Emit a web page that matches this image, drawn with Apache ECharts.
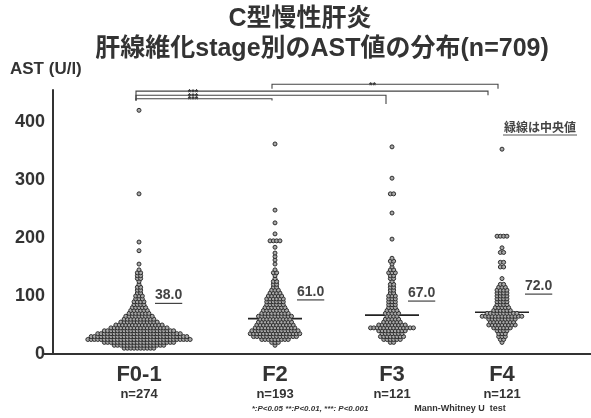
<!DOCTYPE html>
<html>
<head>
<meta charset="utf-8">
<script src="https://cdn.jsdelivr.net/npm/echarts@6/dist/echarts.min.js"></script>
<style>
  html, body { margin: 0; padding: 0; background: #fff; }
  #chart { width: 591px; height: 418px; }
</style>
</head>
<body>
<div id="chart"></div>
<script>
// data
const categories = ['F0-1', 'F2', 'F3', 'F4'];
const groupN = [274, 193, 121, 121];
const medians = [38.0, 61.0, 67.0, 72.0];

// AST value of each dot row and the number of dots in that row
const rowsF01 = [10, 15, 20, 25, 30, 35, 40, 45, 50, 55, 60, 65, 70, 75, 80, 85, 90, 95, 100, 105, 110, 115, 120, 125, 130, 135, 140, 145, 155, 178, 193, 276, 420];
const countsF01 = [10, 16, 22, 32, 30, 26, 22, 18, 15, 12, 10, 9, 7, 6, 5, 4, 4, 3, 3, 2, 2, 2, 1, 1, 2, 2, 2, 1, 1, 1, 1, 1, 1];

const rowsF2 = [15, 20, 25, 30, 35, 40, 45, 50, 55, 60, 65, 70, 75, 80, 85, 90, 95, 100, 105, 110, 115, 120, 125, 130, 135, 140, 145, 155, 162, 168, 174, 184, 195, 207, 226, 248, 362];
const countsF2 = [1, 3, 9, 14, 16, 15, 13, 12, 11, 10, 11, 9, 8, 7, 6, 6, 6, 5, 4, 3, 2, 2, 2, 1, 1, 2, 1, 1, 1, 1, 1, 1, 4, 1, 1, 1, 1];

const rowsF3 = [20, 25, 30, 35, 40, 45, 50, 55, 60, 65, 70, 75, 80, 85, 90, 95, 100, 105, 110, 115, 120, 125, 130, 135, 140, 145, 150, 155, 160, 165, 198, 243, 276, 303, 357];
const countsF3 = [2, 6, 8, 7, 9, 14, 9, 6, 5, 4, 5, 4, 3, 3, 3, 3, 3, 2, 2, 2, 2, 1, 2, 2, 3, 2, 1, 1, 2, 1, 1, 1, 2, 1, 1];

const rowsF4 = [20, 25, 30, 35, 40, 45, 50, 55, 60, 65, 70, 75, 80, 85, 90, 95, 100, 105, 110, 115, 120, 130, 150, 158, 175, 183, 203, 353];
const countsF4 = [1, 2, 3, 3, 4, 6, 9, 8, 9, 13, 10, 6, 5, 4, 4, 4, 4, 4, 4, 3, 2, 1, 2, 2, 2, 1, 4, 1];

const yTicks = [0, 100, 200, 300, 400];

// significance brackets: from group, to group, stars
const bracketFrom = [1, 0, 0, 0];
const bracketTo = [3, 3, 2, 1];
const bracketStars = ['**', '***', '***', '***'];

// layout (axis units == pixels along x)
const groupPos = [86, 222, 339, 449];
const dotGap = 3.3;
const medianHalf = 27;
const labelDx = [16, 22, 16, 23];
const labelY = [101, 107, 105, 117];
const bracketLevel = [465, 453, 446, 440];
const bracketLeftDrop = [457, 437, 437, 437];
const bracketRightDrop = [457, 446, 431, 437];
const bracketLeftDx = [-3, -3, -3, -3];
const bracketRightDx = [-4, -14, -6, -3];
const starX = 140;

const txt = '#333';
const latin = '"Liberation Sans", Arial, "Noto Sans CJK JP", sans-serif';

function swarm(center, rows, counts) {
    let pts = [];
    rows.forEach((v, i) => {
        let c = counts[i];
        for (let k = 0; k < c; k++) {
            pts.push([center + (k - (c - 1) / 2) * dotGap, v]);
        }
    });
    return pts;
}

const groups = [
    swarm(groupPos[0], rowsF01, countsF01),
    swarm(groupPos[1], rowsF2, countsF2),
    swarm(groupPos[2], rowsF3, countsF3),
    swarm(groupPos[3], rowsF4, countsF4)
];

const measure = document.createElement('canvas').getContext('2d');
function textWidth(s, font) {
    measure.font = font;
    return measure.measureText(s).width;
}

let myChart = echarts.init(document.getElementById('chart'), null, {renderer: 'canvas'});

let dotSeries = groups.map((g, i) => ({
    name: categories[i],
    type: 'scatter',
    data: g,
    symbol: 'circle',
    symbolSize: 4,
    itemStyle: {color: '#a8a8a8', borderColor: '#2e2e2e', borderWidth: 1, opacity: 1},
    emphasis: {disabled: true},
    z: 3
}));

// median line sits under the dots, label on top
let medianLineSeries = {
    type: 'custom',
    data: medians.map((m, i) => [i, m]),
    z: 2,
    clip: false,
    renderItem: function (params, api) {
        let i = api.value(0);
        let m = api.value(1);
        let a = api.coord([groupPos[i] - medianHalf, m]);
        let b = api.coord([groupPos[i] + medianHalf, m]);
        return {type: 'line', shape: {x1: a[0], y1: a[1], x2: b[0], y2: b[1]},
            style: {stroke: '#222', lineWidth: 1.6}};
    }
};

let medianLabelSeries = {
    type: 'custom',
    data: medians.map((m, i) => [i, m]),
    z: 5,
    clip: false,
    renderItem: function (params, api) {
        let i = api.value(0);
        let m = api.value(1);
        let t = api.coord([groupPos[i] + labelDx[i], labelY[i]]);
        let label = m.toFixed(1);
        let font = 'bold 14px ' + latin;
        let w = textWidth(label, font);
        return {
            type: 'group',
            children: [
                {type: 'text', x: t[0], y: t[1],
                    style: {text: label, font: font, fill: '#444', align: 'left', verticalAlign: 'middle'}},
                {type: 'line', shape: {x1: t[0], y1: t[1] + 8, x2: t[0] + w, y2: t[1] + 8},
                    style: {stroke: '#444', lineWidth: 1.2}}
            ]
        };
    }
};

let bracketSeries = {
    type: 'custom',
    data: bracketFrom.map((f, i) => [i]),
    z: 5,
    clip: false,
    renderItem: function (params, api) {
        let i = api.value(0);
        let x1 = groupPos[bracketFrom[i]] + bracketLeftDx[i];
        let x2 = groupPos[bracketTo[i]] + bracketRightDx[i];
        let p1 = api.coord([x1, bracketLeftDrop[i]]);
        let p2 = api.coord([x1, bracketLevel[i]]);
        let p3 = api.coord([x2, bracketLevel[i]]);
        let p4 = api.coord([x2, bracketRightDrop[i]]);
        let sx = bracketFrom[i] === 0 ? starX : (groupPos[bracketFrom[i]] + groupPos[bracketTo[i]]) / 2 - 16;
        let s = api.coord([sx, bracketLevel[i]]);
        return {
            type: 'group',
            children: [
                {type: 'polyline', shape: {points: [p1, p2, p3, p4]},
                    style: {stroke: '#444', lineWidth: 1.1, fill: null}},
                {type: 'text', x: s[0], y: s[1] + 1,
                    style: {text: bracketStars[i], font: 'bold 9px ' + latin, fill: '#333', align: 'center', verticalAlign: 'middle'}}
            ]
        };
    }
};

let options = {
    backgroundColor: '#fff',
    animation: false,
    grid: {left: 53, right: 0, top: 90, bottom: 64},
    xAxis: {
        type: 'value',
        min: 0,
        max: 538,
        splitLine: {show: false},
        axisLine: {show: true, onZero: false, lineStyle: {color: '#333', width: 2}},
        axisTick: {show: false},
        axisLabel: {
            customValues: groupPos,
            margin: 9,
            formatter: function (v) {
                let i = groupPos.indexOf(v);
                if (i < 0) return '';
                return '{a|' + categories[i] + '}\n{b|n=' + groupN[i] + '}';
            },
            rich: {
                a: {fontSize: 22, fontWeight: 'bold', color: txt, fontFamily: latin, lineHeight: 24},
                b: {fontSize: 13, fontWeight: 'bold', color: txt, fontFamily: latin, lineHeight: 15}
            }
        }
    },
    yAxis: {
        type: 'value',
        min: 0,
        max: 455,
        interval: 100,
        splitLine: {show: false},
        axisLine: {show: true, lineStyle: {color: '#333', width: 2}},
        axisTick: {show: true, customValues: [0], length: 9, lineStyle: {color: '#333', width: 2}},
        axisLabel: {
            customValues: yTicks,
            margin: 8,
            fontSize: 18,
            fontWeight: 'bold',
            color: txt,
            fontFamily: latin
        }
    },
    graphic: [
        {type: 'text', x: 300, y: 19, style: {text: 'C型慢性肝炎', font: 'bold 25px ' + latin, fill: txt, align: 'center', verticalAlign: 'middle'}},
        {type: 'text', x: 322, y: 49, style: {text: '肝線維化stage別のAST値の分布(n=709)', font: 'bold 25px ' + latin, fill: txt, align: 'center', verticalAlign: 'middle'}},
        {type: 'text', x: 10, y: 69, style: {text: 'AST (U/l)', font: 'bold 17px ' + latin, fill: txt, align: 'left', verticalAlign: 'middle'}},
        {type: 'text', x: 540, y: 127, style: {text: '緑線は中央値', font: 'bold 12px "Noto Sans CJK JP", sans-serif', fill: '#444', align: 'center', verticalAlign: 'middle'}},
        {type: 'line', shape: {x1: 503, y1: 135, x2: 577, y2: 135}, style: {stroke: '#555', lineWidth: 1}},
        {type: 'text', x: 310, y: 409, style: {text: '*:P<0.05 **:P<0.01, ***: P<0.001', font: 'italic bold 8px ' + latin, fill: txt, align: 'center', verticalAlign: 'middle'}},
        {type: 'text', x: 460, y: 409, style: {text: 'Mann-Whitney U  test', font: 'bold 9px ' + latin, fill: txt, align: 'center', verticalAlign: 'middle'}}
    ],
    series: dotSeries.concat([medianLineSeries, medianLabelSeries, bracketSeries])
};

myChart.setOption(options);
</script>
</body>
</html>
